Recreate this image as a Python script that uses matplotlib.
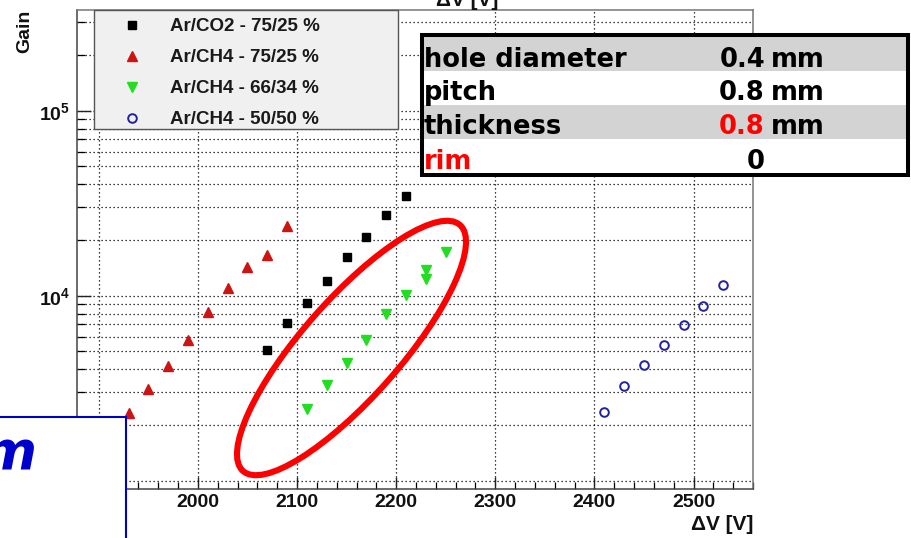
import math
import matplotlib
matplotlib.use("Agg")
import matplotlib.pyplot as plt
from matplotlib.patches import Rectangle, Ellipse
from matplotlib.ticker import MultipleLocator, LogLocator, FuncFormatter, NullFormatter

plt.rcParams['font.family'] = ['Liberation Sans', 'DejaVu Sans']
plt.rcParams['mathtext.fontset'] = 'custom'
plt.rcParams['mathtext.rm'] = 'Liberation Sans'
plt.rcParams['mathtext.bf'] = 'Liberation Sans:bold'

# ---------------- data ----------------
arco2_7525_v = [2070, 2090, 2110, 2130, 2150, 2170, 2190, 2210]
arco2_7525_g = [5080, 7100, 9170, 12050, 16130, 20750, 27300, 34600]

arch4_7525_v = [1930, 1950, 1970, 1990, 2010, 2030, 2050, 2070, 2090]
arch4_7525_g = [2310, 3130, 4170, 5760, 8130, 10960, 14240, 16660, 23900]

arch4_6634_v = [2110, 2130, 2150, 2170, 2190, 2210, 2230, 2230, 2250]
arch4_6634_g = [2430, 3290, 4350, 5760, 7930, 10090, 12360, 13770, 17300]

arch4_5050_v = [2410, 2430, 2450, 2470, 2490, 2510, 2530]
arch4_5050_g = [2340, 3260, 4210, 5410, 6970, 8770, 11380]

series_labels = ["Ar/CO2 - 75/25 %", "Ar/CH4 - 75/25 %", "Ar/CH4 - 66/34 %", "Ar/CH4 - 50/50 %"]

table_labels = ["hole diameter", "pitch", "thickness", "rim"]
table_values = ["0.4", "0.8", "0.8", "0"]
table_units = ["mm", "mm", "mm", ""]

# ---------------- figure ----------------
W, H = 911, 538
fig = plt.figure(figsize=(W / 100, H / 100), dpi=100)
fig.patch.set_facecolor('white')

left_px, right_px, top_px, bot_px = 77, 753, 10, 488.5
aw, ah = right_px - left_px, bot_px - top_px
ax = fig.add_axes([left_px / W, 1 - bot_px / H, aw / W, ah / H])
ax.set_yscale('log')
ax.set_xlim(1878, 2560)
ax.set_ylim(907, 3.5e5)

ms = dict(linestyle='none')
ax.plot(arco2_7525_v, arco2_7525_g, marker='s', ms=5.6, color='black', label=series_labels[0], **ms)
ax.plot(arch4_7525_v, arch4_7525_g, marker='^', ms=6.5, color='#cc1414', mec='#cc1414', label=series_labels[1], **ms)
ax.plot(arch4_6634_v, arch4_6634_g, marker='v', ms=6.5, color='#22dd22', mec='#22dd22', label=series_labels[2], **ms)
ax.plot(arch4_5050_v, arch4_5050_g, marker='o', ms=6.2, mfc='none', mec='#2222a0', mew=1.4, label=series_labels[3], **ms)

# ticks
ax.xaxis.set_major_locator(MultipleLocator(100))
ax.xaxis.set_minor_locator(MultipleLocator(20))
ax.yaxis.set_major_locator(LogLocator(base=10, numticks=10))
ax.yaxis.set_minor_locator(LogLocator(base=10, subs=[2, 3, 4, 5, 6, 7, 8, 9], numticks=30))
ax.yaxis.set_major_formatter(FuncFormatter(lambda v, p: r'$\mathbf{10^{%d}}$' % round(math.log10(v))))
ax.yaxis.set_minor_formatter(NullFormatter())

ax.tick_params(axis='x', which='major', direction='in', length=8.6, width=1.0, pad=4,
               labelsize=14, colors='#222', top=False)
ax.tick_params(axis='x', which='minor', direction='in', length=5, width=0.9, top=False)
ax.tick_params(axis='y', which='major', direction='in', length=10, width=1.0, pad=5,
               labelsize=14, colors='#222', right=False)
ax.tick_params(axis='y', which='minor', direction='in', length=6, width=0.9, right=False)
for lab in ax.get_xticklabels() + ax.get_yticklabels():
    lab.set_fontweight('bold')
    lab.set_color('#111')

# grid
gridkw = dict(color='black', linestyle=(0, (1, 2.2)), linewidth=0.9)
ax.grid(True, which='major', axis='x', **gridkw)
ax.grid(True, which='both', axis='y', **gridkw)
ax.set_axisbelow(True)

for side, sp in ax.spines.items():
    sp.set_color('#444' if side in ('left', 'bottom') else '#777')
    sp.set_linewidth(1.1)

ax.set_xlabel('\u0394V [V]', loc='right', fontsize=15, fontweight='bold', color='#111')
ax.xaxis.set_label_coords(1.0, -(515 - bot_px) / ah)
ax.xaxis.label.set_va('top')

# legend: frame drawn as a rectangle, entries by the legend itself
def ax_frac(xp, yp):
    return (xp - left_px) / aw, (bot_px - yp) / ah

lx0, ly1 = ax_frac(94, 10)
lx1, ly0 = ax_frac(398, 129)
ax.add_patch(Rectangle((lx0, ly0), lx1 - lx0, ly1 - ly0, transform=ax.transAxes,
                       facecolor='#f0f0f0', edgecolor='#555', linewidth=1.0,
                       clip_on=False, zorder=4))
anc_x, anc_y = ax_frac(90.5, 8)
leg = ax.legend(loc='upper left', bbox_to_anchor=(anc_x, anc_y),
                borderaxespad=0, frameon=False, numpoints=1, handlelength=3.3,
                handletextpad=0.4, labelspacing=0.74, borderpad=0.55,
                prop={'family': 'Liberation Sans', 'weight': 'bold', 'size': 13.5})
leg.set_zorder(6)
for t in leg.get_texts():
    t.set_color('#1a1a1a')

# ---------------- overlay in pixel coordinates ----------------
ov = fig.add_axes([0, 0, 1, 1])
ov.set_xlim(0, W)
ov.set_ylim(H, 0)
ov.axis('off')
ov.patch.set_alpha(0)

# y-axis title and cut top title
ov.text(25, top_px, 'Gain', rotation=90, ha='center', va='top', fontsize=14,
        fontweight='bold', color='#111')
ov.text(436, 5.5, '\u0394V [V]', ha='left', va='baseline', fontsize=15, fontweight='bold', color='#111')

# parameter table
row_tops = [36, 71, 105, 139]
row_bots = [71, 105, 139, 173]
ov.add_patch(Rectangle((422, 34.5), 486, 140, facecolor='white', edgecolor='none', zorder=1))
for i in range(4):
    if i % 2 == 0:
        ov.add_patch(Rectangle((424, row_tops[i]), 482, row_bots[i] - row_tops[i],
                               facecolor='#d3d3d3', edgecolor='none', zorder=2))
ov.add_patch(Rectangle((422, 34.5), 486, 140, facecolor='none', edgecolor='black',
                       linewidth=2.9, zorder=3))
baselines = [67, 100.5, 134, 169]
tkw = dict(fontsize=18.5, fontweight='bold', family='DejaVu Sans', va='baseline', zorder=4)
for i in range(4):
    ov.text(424, baselines[i], table_labels[i], ha='left',
            color=('#ff0000' if table_labels[i] == 'rim' else 'black'), **tkw)
    ov.text(765, baselines[i], table_values[i], ha='right',
            color=('#ff0000' if table_labels[i] == 'thickness' else 'black'), **tkw)
    if table_units[i]:
        ov.text(771, baselines[i], table_units[i], ha='left', color='black', **tkw)

# red ellipse
ov.add_patch(Ellipse((351.5, 348), 328, 98, angle=-48.6, facecolor='none',
                     edgecolor='#ff0000', linewidth=4.4, zorder=5))

# blue box at bottom left
ov.add_patch(Rectangle((-10, 417.3), 136, 140, facecolor='white', edgecolor='#0000cc',
                       linewidth=1.5, zorder=6))
ov.text(36, 470, 'm', ha='right', va='baseline', fontsize=38, fontweight='bold',
        fontstyle='italic', family='DejaVu Sans', color='#0000cc', zorder=7)

fig.savefig('out.png', dpi=100, facecolor='white')
